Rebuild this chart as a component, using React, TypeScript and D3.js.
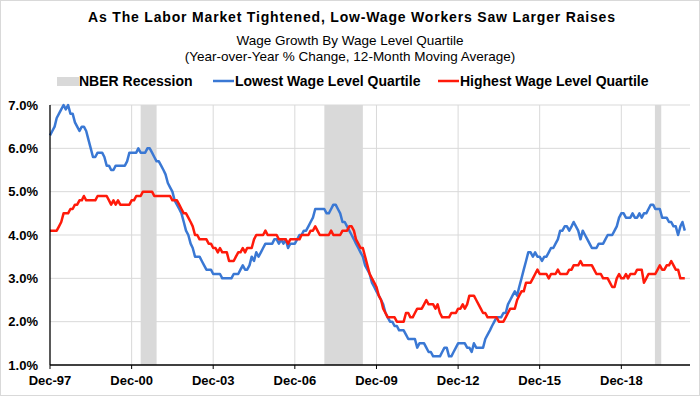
import React from "react";
import * as d3 from "d3";

const WIDTH = 700;
const HEIGHT = 396;
const FONT = "'Liberation Sans', Arial, Helvetica, sans-serif";

// monthly series, first value is Dec-97
const START = new Date(1997, 11, 1);

// Lowest wage level quartile, % y/y (12-month moving average)
const lowestQuartile = [
  6.3,
  6.4, 6.5, 6.7, 6.8, 6.9, 7.0, 6.9, 7.0, 6.8, 6.8, 6.6, 6.5, // 1998
  6.4, 6.5, 6.5, 6.4, 6.2, 6.0, 5.8, 5.8, 5.9, 5.9, 5.9, 5.8, // 1999
  5.6, 5.6, 5.5, 5.5, 5.6, 5.6, 5.6, 5.6, 5.6, 5.7, 5.9, 5.9, // 2000
  5.9, 5.9, 6.0, 5.9, 5.9, 5.9, 6.0, 6.0, 5.9, 5.8, 5.7, 5.7, // 2001
  5.6, 5.5, 5.4, 5.2, 5.1, 5.0, 4.8, 4.7, 4.6, 4.5, 4.3, 4.1, // 2002
  4.0, 3.8, 3.7, 3.5, 3.5, 3.5, 3.4, 3.3, 3.2, 3.2, 3.2, 3.1, // 2003
  3.1, 3.1, 3.1, 3.0, 3.0, 3.0, 3.0, 3.0, 3.1, 3.1, 3.1, 3.2, // 2004
  3.3, 3.2, 3.2, 3.3, 3.5, 3.4, 3.6, 3.5, 3.6, 3.7, 3.8, 3.8, // 2005
  3.8, 3.8, 3.9, 3.9, 3.8, 3.9, 3.8, 3.9, 3.7, 3.8, 3.8, 3.8, // 2006
  3.9, 4.0, 4.0, 4.1, 4.1, 4.2, 4.3, 4.4, 4.6, 4.6, 4.6, 4.6, // 2007
  4.6, 4.5, 4.5, 4.6, 4.7, 4.7, 4.6, 4.5, 4.3, 4.3, 4.2, 4.1, // 2008
  4.0, 3.9, 3.8, 3.7, 3.6, 3.5, 3.3, 3.2, 3.1, 2.9, 2.8, 2.7, // 2009
  2.6, 2.5, 2.4, 2.2, 2.1, 2.0, 2.0, 1.9, 1.9, 1.8, 1.8, 1.8, // 2010
  1.7, 1.6, 1.6, 1.6, 1.6, 1.4, 1.5, 1.5, 1.5, 1.4, 1.3, 1.3, // 2011
  1.2, 1.2, 1.2, 1.2, 1.3, 1.4, 1.4, 1.2, 1.2, 1.3, 1.4, 1.5, // 2012
  1.5, 1.5, 1.5, 1.4, 1.4, 1.3, 1.5, 1.4, 1.4, 1.4, 1.4, 1.6, // 2013
  1.7, 1.8, 1.9, 2.0, 2.1, 2.1, 2.1, 2.2, 2.2, 2.4, 2.5, 2.6, // 2014
  2.7, 2.6, 2.8, 3.0, 3.2, 3.4, 3.6, 3.6, 3.5, 3.6, 3.5, 3.5, // 2015
  3.4, 3.5, 3.5, 3.6, 3.7, 3.7, 3.8, 3.9, 4.1, 4.1, 4.2, 4.2, // 2016
  4.1, 4.2, 4.3, 4.2, 4.1, 3.9, 4.1, 4.0, 3.9, 3.8, 3.7, 3.7, // 2017
  3.7, 3.8, 3.8, 3.8, 3.9, 4.0, 4.0, 4.0, 4.1, 4.2, 4.4, 4.5, // 2018
  4.5, 4.4, 4.4, 4.4, 4.5, 4.4, 4.4, 4.5, 4.4, 4.5, 4.5, 4.6, // 2019
  4.7, 4.7, 4.6, 4.6, 4.6, 4.4, 4.4, 4.4, 4.3, 4.3, 4.2, 4.2, // 2020
  4.0, 4.2, 4.3, 4.1, // 2021
];

// Highest wage level quartile
const highestQuartile = [
  4.1,
  4.1, 4.1, 4.1, 4.2, 4.3, 4.5, 4.5, 4.5, 4.6, 4.6, 4.7, 4.7, // 1998
  4.8, 4.8, 4.9, 4.8, 4.8, 4.8, 4.8, 4.8, 4.9, 4.9, 4.9, 4.9, // 1999
  4.9, 4.8, 4.7, 4.8, 4.7, 4.8, 4.7, 4.7, 4.7, 4.7, 4.7, 4.8, // 2000
  4.8, 4.9, 4.9, 4.9, 5.0, 5.0, 5.0, 5.0, 5.0, 4.9, 4.9, 4.9, // 2001
  4.9, 4.9, 4.9, 4.9, 4.9, 4.8, 4.8, 4.8, 4.7, 4.6, 4.5, 4.5, // 2002
  4.4, 4.3, 4.2, 4.0, 4.0, 3.9, 3.9, 3.9, 3.9, 3.8, 3.8, 3.7, // 2003
  3.7, 3.6, 3.7, 3.6, 3.6, 3.6, 3.4, 3.4, 3.4, 3.5, 3.6, 3.6, // 2004
  3.7, 3.6, 3.7, 3.7, 3.7, 3.9, 4.0, 4.0, 4.0, 4.0, 4.1, 4.0, // 2005
  4.0, 4.0, 4.0, 4.0, 3.9, 3.9, 3.9, 3.9, 3.8, 3.9, 3.9, 3.9, // 2006
  3.9, 3.9, 4.0, 4.0, 4.0, 4.0, 4.1, 4.1, 4.2, 4.1, 4.0, 4.0, // 2007
  4.0, 4.0, 4.0, 4.1, 4.0, 4.0, 4.0, 4.0, 4.1, 4.1, 4.1, 4.2, // 2008
  4.2, 4.1, 3.9, 3.8, 3.7, 3.7, 3.5, 3.3, 3.1, 3.0, 2.9, 2.8, // 2009
  2.6, 2.5, 2.3, 2.2, 2.1, 2.1, 2.1, 2.1, 2.0, 2.0, 2.0, 2.0, // 2010
  2.2, 2.2, 2.1, 2.1, 2.2, 2.3, 2.3, 2.3, 2.4, 2.5, 2.4, 2.4, // 2011
  2.4, 2.3, 2.4, 2.2, 2.1, 2.1, 2.1, 2.1, 2.2, 2.2, 2.2, 2.3, // 2012
  2.3, 2.4, 2.3, 2.4, 2.6, 2.6, 2.6, 2.5, 2.4, 2.3, 2.2, 2.2, // 2013
  2.1, 2.1, 2.1, 2.1, 2.1, 2.0, 2.0, 2.0, 2.1, 2.2, 2.3, 2.3, // 2014
  2.3, 2.5, 2.6, 2.7, 2.7, 2.9, 2.9, 2.9, 3.0, 3.1, 3.2, 3.1, // 2015
  3.1, 3.1, 3.1, 3.0, 3.1, 3.1, 3.1, 3.2, 3.1, 3.1, 3.1, 3.1, // 2016
  3.2, 3.2, 3.3, 3.3, 3.3, 3.4, 3.3, 3.3, 3.3, 3.3, 3.3, 3.2, // 2017
  3.1, 3.1, 3.1, 3.0, 3.0, 3.0, 2.9, 2.8, 2.8, 3.0, 3.1, 3.0, // 2018
  3.0, 3.1, 3.0, 3.1, 3.1, 3.1, 3.2, 3.2, 3.2, 2.9, 3.0, 3.1, // 2019
  3.1, 3.1, 3.1, 3.2, 3.3, 3.2, 3.2, 3.3, 3.3, 3.4, 3.3, 3.2, // 2020
  3.2, 3.0, 3.0, 3.0, // 2021
];

// NBER recessions (start, end) as drawn by the monthly bars
const recessions = [
  ["2001-04-01", "2001-11-01"],
  ["2008-01-01", "2009-06-01"],
  ["2020-02-25", "2020-05-20"],
];

const yTicks = [1, 2, 3, 4, 5, 6, 7];
const xTickMonths = [0, 36, 72, 108, 144, 180, 216, 252];

const BLUE = "#3a78d4";
const RED = "#ff1a0a";
const GRID = "#d9d9d9";

const legendItems = [
  { label: "NBER Recession", kind: "box", color: GRID, x: 57 },
  { label: "Lowest Wage Level Quartile", kind: "line", color: BLUE, x: 213 },
  { label: "Highest Wage Level Quartile", kind: "line", color: RED, x: 438 },
];

const plot = { left: 50, right: 690, top: 105, bottom: 365 };

export default function App() {
  const x = d3
    .scaleTime()
    .domain([START, new Date(2021, 5, 10)])
    .range([plot.left, plot.right]);
  const y = d3.scaleLinear().domain([1, 7]).range([plot.bottom, plot.top]);

  const toPoints = (vals: number[]) =>
    vals.map((v, i) => ({ date: d3.timeMonth.offset(START, i), value: v }));

  const line = d3
    .line<{ date: Date; value: number }>()
    .x((d) => x(d.date))
    .y((d) => y(d.value));

  const fmt = d3.timeFormat("%b-%y");
  const xTicks = xTickMonths.map((m) => d3.timeMonth.offset(START, m));
  const parse = d3.timeParse("%Y-%m-%d");

  return (
    <svg
      width={WIDTH}
      height={HEIGHT}
      style={{ position: "absolute", left: 0, top: 0, background: "#fff" }}
      fontFamily={FONT}
    >
      <rect x={0.5} y={0.5} width={WIDTH - 1} height={HEIGHT - 1} fill="#fff" stroke={GRID} />

      {/* titles */}
      <text
        x={88}
        y={22}
        fontSize={14}
        fontWeight="bold"
        fill="#000"
        textLength={527}
        lengthAdjust="spacing"
      >
        As The Labor Market Tightened, Low-Wage Workers Saw Larger Raises
      </text>
      <text x={350} y={45} textAnchor="middle" fontSize={13.5} fill="#000">
        Wage Growth By Wage Level Quartile
      </text>
      <text x={350} y={61} textAnchor="middle" fontSize={13.5} fill="#000">
        (Year-over-Year % Change, 12-Month Moving Average)
      </text>

      {/* legend */}
      {legendItems.map((d) => (
        <g key={d.label}>
          {d.kind === "box" ? (
            <rect x={d.x} y={77} width={22} height={9} fill={d.color} />
          ) : (
            <line x1={d.x} x2={d.x + 21} y1={81} y2={81} stroke={d.color} strokeWidth={2.5} />
          )}
          <text x={d.x + 22} y={86} fontSize={14} fontWeight="bold" fill="#000">
            {d.label}
          </text>
        </g>
      ))}

      {/* gridlines */}
      {yTicks.slice(1).map((t) => (
        <line key={"gy" + t} x1={plot.left} x2={plot.right} y1={y(t)} y2={y(t)} stroke={GRID} strokeWidth={1} />
      ))}
      {xTicks.slice(1).map((t, i) => (
        <line key={"gx" + i} x1={x(t)} x2={x(t)} y1={plot.top} y2={plot.bottom} stroke={GRID} strokeWidth={1} />
      ))}

      {/* recession shading */}
      {recessions.map(([s, e]) => (
        <rect
          key={s}
          x={x(parse(s)!)}
          width={x(parse(e)!) - x(parse(s)!)}
          y={plot.top}
          height={plot.bottom - plot.top}
          fill={GRID}
        />
      ))}

      {/* series */}
      <path d={line(toPoints(lowestQuartile)) || ""} fill="none" stroke={BLUE} strokeWidth={2.5} strokeLinejoin="round" />
      <path d={line(toPoints(highestQuartile)) || ""} fill="none" stroke={RED} strokeWidth={2.5} strokeLinejoin="round" />

      {/* axes */}
      <line x1={plot.left} x2={plot.left} y1={plot.top} y2={plot.bottom} stroke="#000" strokeWidth={1.3} />
      <line x1={plot.left} x2={plot.right} y1={plot.bottom} y2={plot.bottom} stroke="#000" strokeWidth={1.3} />
      {xTicks.map((t, i) => (
        <g key={"xt" + i}>
          <line x1={x(t)} x2={x(t)} y1={plot.bottom} y2={plot.bottom + 4} stroke="#000" strokeWidth={1} />
          <text x={x(t)} y={385} textAnchor="middle" fontSize={13} fontWeight="bold" fill="#000">
            {fmt(t)}
          </text>
        </g>
      ))}
      {yTicks.map((t) => (
        <text key={"yt" + t} x={38} y={y(t) + 4.7} textAnchor="end" fontSize={13} fontWeight="bold" fill="#000">
          {t.toFixed(1) + "%"}
        </text>
      ))}
    </svg>
  );
}
